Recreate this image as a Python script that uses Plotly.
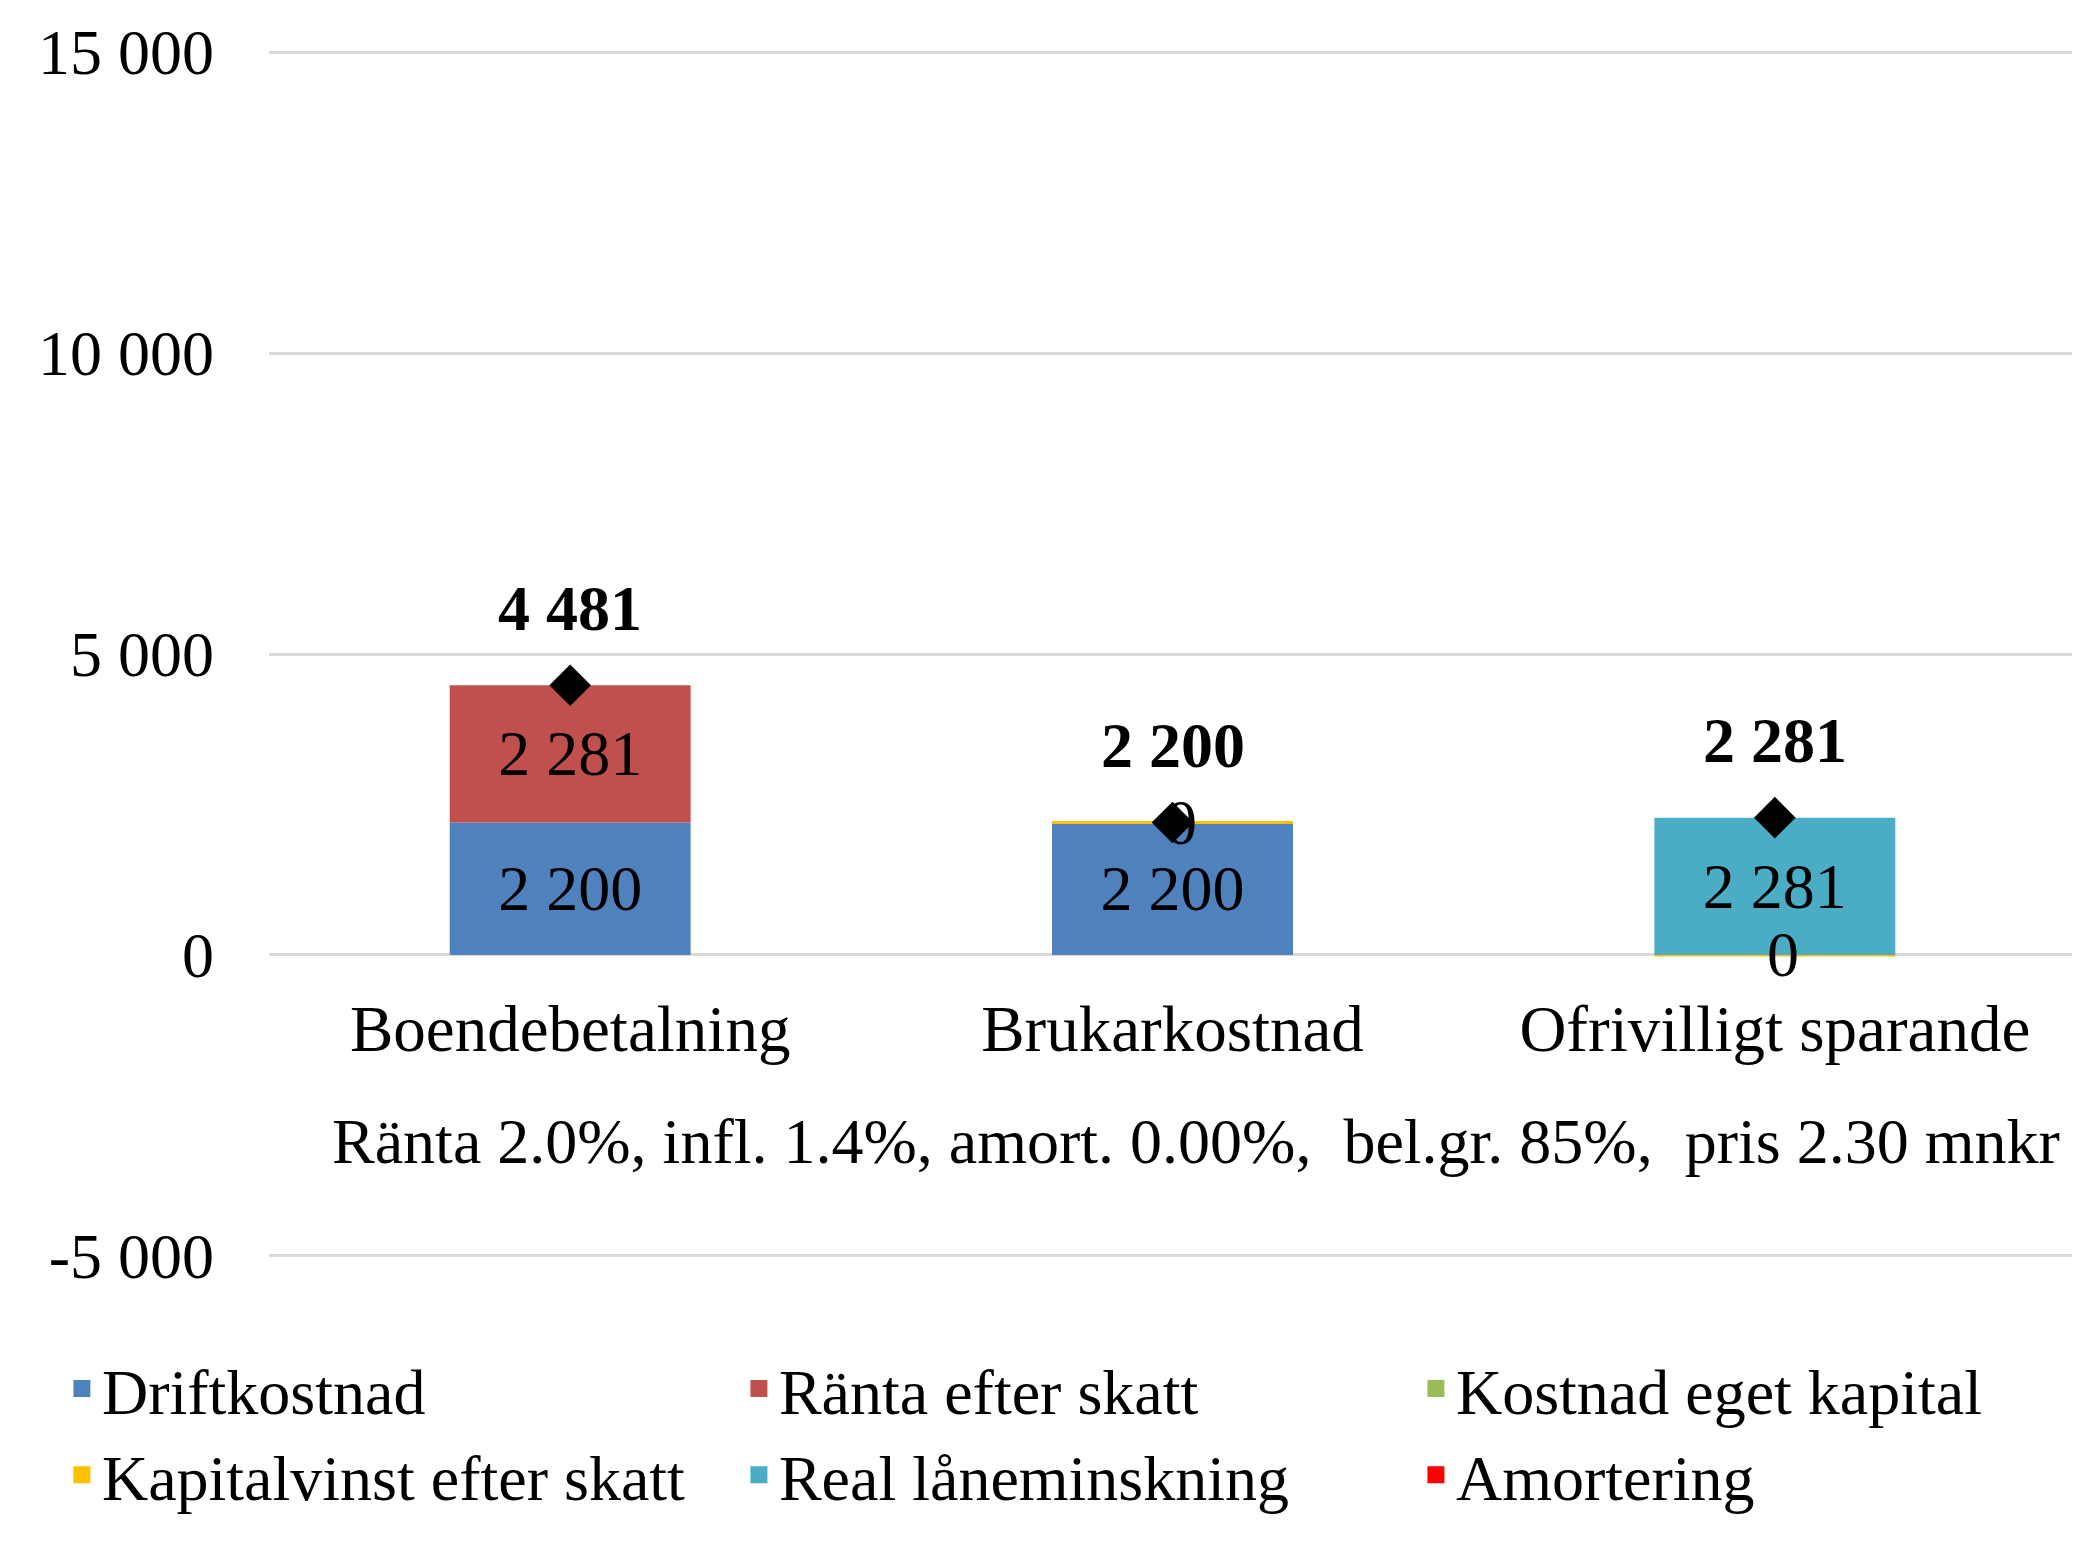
import plotly.graph_objects as go

categories = ["Boendebetalning", "Brukarkostnad", "Ofrivilligt sparande"]

series_names = ["Driftkostnad", "Ränta efter skatt", "Kostnad eget kapital",
                "Kapitalvinst efter skatt", "Real låneminskning", "Amortering"]
series_colors = ["#4F81BD", "#C0504D", "#9BBB59", "#FFC000", "#4BACC6", "#FF0000"]

driftkostnad = [2200, 2200, 0]
ranta_efter_skatt = [2281, 0, 0]
kostnad_eget_kapital = [0, 0, 0]
kapitalvinst_efter_skatt = [None, 0, 0]
real_laneminskning = [0, 0, 2281]
amortering = [0, 0, 0]

totals = [4481, 2200, 2281]

y_tickvals = [-5000, 0, 5000, 10000, 15000]
y_ticktext = ["-5 000", "0", "5 000", "10 000", "15 000"]
y_range = [-5200, 15200]

subtitle = "Ränta 2.0%, infl. 1.4%, amort. 0.00%,  bel.gr. 85%,  pris 2.30 mnkr"

FONT = "Liberation Serif"
FS = 64


def fmt(v):
    return f"{v:,}".replace(",", " ")


series_values = [driftkostnad, ranta_efter_skatt, kostnad_eget_kapital,
                 kapitalvinst_efter_skatt, real_laneminskning, amortering]

fig = go.Figure()

for name, color, vals in zip(series_names, series_colors, series_values):
    texts = [fmt(v) if (v is not None and v != 0) else "" for v in vals]
    is_zero_line = name == "Kapitalvinst efter skatt"
    fig.add_trace(go.Bar(
        name=name, x=categories, y=vals, legendgroup=name, showlegend=False,
        marker=dict(color=color,
                    line=dict(color=color, width=3 if is_zero_line else 0)),
        text=texts, textposition="inside", insidetextanchor="middle",
        textangle=0,
        textfont=dict(family=FONT, size=FS, color="black"),
        cliponaxis=False,
        hoverinfo="skip",
    ))

# legend entries (same series, empty geometry, larger legend swatch)
for name, color in zip(series_names, series_colors):
    fig.add_trace(go.Bar(
        name=name, x=[categories[0]], y=[None], legendgroup=name,
        marker=dict(color=color, line=dict(color=color, width=18)),
        hoverinfo="skip",
    ))

# total markers
fig.add_trace(go.Scatter(
    x=categories, y=totals, mode="markers",
    marker=dict(symbol="diamond", size=32, color="black"),
    showlegend=False, hoverinfo="skip", cliponaxis=False,
))

# zero-value labels of "Kapitalvinst efter skatt" at its stacked position
for i, cat in enumerate(categories):
    v = kapitalvinst_efter_skatt[i]
    if v is None:
        continue
    base = driftkostnad[i] + ranta_efter_skatt[i] + kostnad_eget_kapital[i]
    fig.add_annotation(x=cat, y=base + v, text=fmt(v), showarrow=False,
                       xshift=8, yanchor="middle",
                       font=dict(family=FONT, size=FS, color="black"))

for cat, t in zip(categories, totals):
    fig.add_annotation(x=cat, y=t, text=f"<b>{fmt(t)}</b>", showarrow=False,
                       yshift=77, yanchor="middle",
                       font=dict(family=FONT, size=FS, color="black"))

fig.add_annotation(xref="paper", yref="paper", x=0.513, y=0.1034,
                   text=subtitle, showarrow=False, xanchor="center",
                   yanchor="middle",
                   font=dict(family=FONT, size=FS, color="black"))

zero_pos = (0 - y_range[0]) / (y_range[1] - y_range[0])

fig.update_layout(
    width=2080, height=1553,
    margin=dict(l=261, r=12, t=32, b=293, autoexpand=False),
    paper_bgcolor="white", plot_bgcolor="white",
    barmode="relative", bargap=0.6,
    font=dict(family=FONT, size=FS, color="black"),
    showlegend=True,
    legend=dict(orientation="h", x=-0.1146, xanchor="left", y=-0.059,
                yanchor="top", entrywidth=632, entrywidthmode="pixels",
                font=dict(family=FONT, size=FS, color="black"),
                traceorder="normal", itemclick=False, itemdoubleclick=False),
    xaxis=dict(anchor="free", position=zero_pos, showline=False, ticks="",
               showgrid=False, zeroline=False, ticklabelstandoff=30,
               tickfont=dict(family=FONT, size=FS + 1, color="black")),
    yaxis=dict(range=y_range, tickvals=y_tickvals, ticktext=y_ticktext,
               showgrid=True, gridcolor="#D9D9D9", gridwidth=2.5,
               zeroline=True, zerolinecolor="#D9D9D9", zerolinewidth=2.5,
               showline=False, ticks="", ticklabelstandoff=54,
               tickfont=dict(family=FONT, size=FS, color="black")),
)

fig.write_html("out.html")
